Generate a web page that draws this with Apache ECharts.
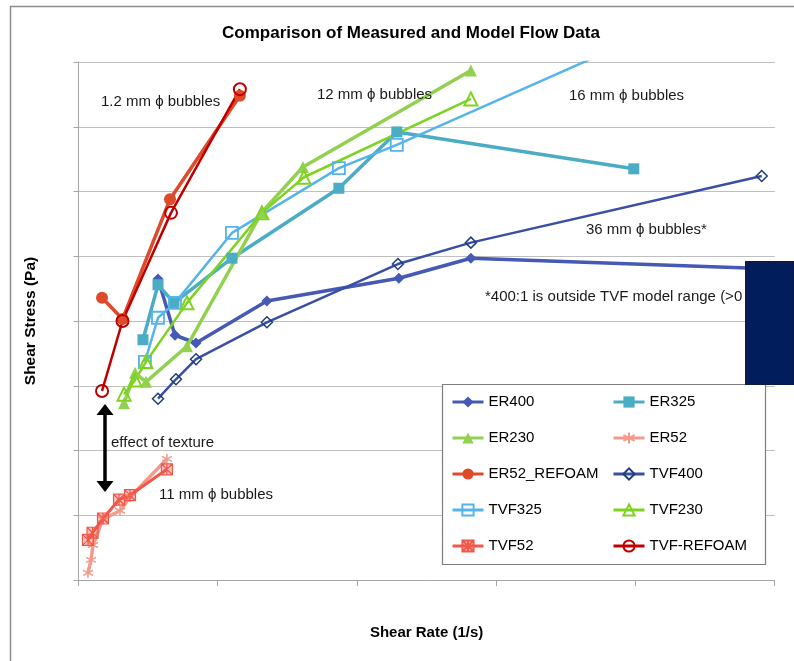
<!DOCTYPE html>
<html>
<head>
<meta charset="utf-8">
<script src="https://cdn.jsdelivr.net/npm/echarts@6/dist/echarts.min.js"></script>
<style>
  html, body { margin: 0; padding: 0; background: #ffffff; }
  #chart { width: 794px; height: 661px; }
</style>
</head>
<body>
<div id="chart"></div>
<script>
// Shear rate (1/s) and shear stress (Pa) pairs for each run
const er400 = [[57.1, 46.5], [69.3, 37.8], [84.4, 36.6], [135.3, 43.1], [230.1, 46.6], [281.8, 49.7], [490.7, 48.1]];
const er325 = [[46.3, 37.1], [57.1, 45.6], [68.6, 42.8], [110.2, 49.7], [187.0, 60.5], [228.6, 69.2], [398.8, 63.5]];
const er230 = [[32.7, 27.3], [40.6, 32.0], [48.5, 30.6], [77.9, 36.1], [131.7, 56.8], [161.2, 63.8], [281.8, 78.7]];
const er52 = [[6.8, 1.1], [9.0, 3.1], [10.4, 5.4], [17.6, 9.4], [29.8, 10.7], [37.0, 12.8], [63.5, 18.7]];
const er52Refoam = [[16.9, 43.6], [31.6, 40.3], [65.7, 58.8], [115.9, 74.8]];
const tvf400 = [[57.1, 28.0], [70.0, 31.0], [84.4, 34.1], [135.3, 39.8], [229.4, 48.8], [281.8, 52.1], [490.7, 62.4]];
const tvf325 = [[47.7, 33.7], [57.1, 40.5], [69.3, 42.8], [110.2, 53.6], [187.0, 63.6], [228.6, 67.2], [398.8, 83.4]];
const tvf230 = [[32.7, 28.7], [40.6, 30.9], [48.5, 33.7], [77.9, 42.8], [131.7, 56.7], [161.9, 62.2], [281.8, 74.3]];
const tvf52 = [[6.8, 6.2], [10.1, 7.3], [17.6, 9.5], [29.1, 12.4], [37.0, 13.1], [63.5, 17.1]];
const tvfRefoam = [[16.9, 29.2], [31.6, 40.0], [66.4, 56.7], [115.9, 75.8]];

const legendLeftColumn = ['ER400', 'ER230', 'ER52_REFOAM', 'TVF325', 'TVF52'];
const legendRightColumn = ['ER325', 'ER52', 'TVF400', 'TVF230', 'TVF-REFOAM'];
const xTicks = [0, 100, 200, 300, 400, 500];
const yTicks = [0, 10, 20, 30, 40, 50, 60, 70, 80];

const FONT = 'Liberation Sans';
const ASTERISK = 'path://M5,0L5,10M0.7,2.5L9.3,7.5M0.7,7.5L9.3,2.5';
const BOXED_ASTERISK = 'path://M0,0L10,0L10,10L0,10ZM0,0L10,10M10,0L0,10M5,0L5,10';
const CLEAR = 'rgba(255,255,255,0)';

function lineSeries(name, data, color, width, symbol, size, itemStyle) {
  return {
    name: name,
    type: 'line',
    data: data,
    symbol: symbol,
    symbolSize: size,
    showAllSymbol: true,
    clip: true,
    lineStyle: { color: color, width: width },
    itemStyle: Object.assign({ color: color }, itemStyle || {}),
    emphasis: { disabled: true },
    animation: false
  };
}

const series = [
  lineSeries('ER400', er400, '#4659b4', 3.5, 'diamond', 11),
  lineSeries('ER325', er325, '#4bacc6', 3.5, 'rect', 11),
  lineSeries('ER230', er230, '#92d050', 3.5, 'triangle', 12),
  lineSeries('ER52', er52, '#f59a8b', 3.5, ASTERISK, 10, { color: CLEAR, borderColor: '#f59a8b', borderWidth: 1.5 }),
  lineSeries('ER52_REFOAM', er52Refoam, '#df4a2b', 3.5, 'circle', 12),
  lineSeries('TVF400', tvf400, '#3a4ea6', 2.5, 'diamond', 11, { color: CLEAR, borderColor: '#1f3e7a', borderWidth: 1.5 }),
  lineSeries('TVF325', tvf325, '#56b4ea', 2.5, 'rect', 12, { color: CLEAR, borderColor: '#56b4ea', borderWidth: 1.8 }),
  lineSeries('TVF230', tvf230, '#7ed321', 2.5, 'triangle', 13, { color: CLEAR, borderColor: '#7ed321', borderWidth: 2 }),
  lineSeries('TVF52', tvf52, '#f2584a', 3, BOXED_ASTERISK, 11, { color: 'rgba(242,88,74,0.35)', borderColor: '#f2584a', borderWidth: 1.2 }),
  lineSeries('TVF-REFOAM', tvfRefoam, '#c00000', 2.5, 'circle', 12, { color: CLEAR, borderColor: '#c00000', borderWidth: 2 })
];

function legendItems(names) {
  return names.map(function (n) {
    return { name: n, lineStyle: { width: 3 } };
  });
}

const legendBase = {
  orient: 'vertical',
  top: 393,
  padding: 0,
  itemWidth: 31,
  itemHeight: 14,
  itemGap: 18,
  textStyle: { fontFamily: FONT, fontSize: 15, color: '#000000', lineHeight: 18 },
  selectedMode: false,
  z: 6
};

const chart = echarts.init(document.getElementById('chart'), null, { renderer: 'canvas' });

chart.setOption({
  backgroundColor: '#ffffff',
  animation: false,
  title: {
    text: 'Comparison of Measured and Model Flow Data',
    left: 406,
    top: 20,
    textAlign: 'center',
    textStyle: { fontFamily: FONT, fontSize: 17, fontWeight: 'bold', color: '#000000' }
  },
  grid: { left: 78.5, right: 19.3, top: 62, bottom: 81, containLabel: false },
  xAxis: {
    type: 'value',
    min: xTicks[0],
    max: xTicks[xTicks.length - 1],
    interval: xTicks[1] - xTicks[0],
    name: 'Shear Rate (1/s)',
    nameLocation: 'middle',
    nameGap: 45,
    nameTextStyle: { fontFamily: FONT, fontSize: 15, fontWeight: 'bold', color: '#000000' },
    axisLine: { show: true, onZero: false, lineStyle: { color: '#a6a6a6', width: 1 } },
    axisTick: { show: true, length: 6, lineStyle: { color: '#a6a6a6' } },
    axisLabel: { show: false },
    splitLine: { show: false }
  },
  yAxis: {
    type: 'value',
    min: yTicks[0],
    max: yTicks[yTicks.length - 1],
    interval: yTicks[1] - yTicks[0],
    name: 'Shear Stress (Pa)',
    nameLocation: 'middle',
    nameRotate: 90,
    nameGap: 40,
    nameTextStyle: { fontFamily: FONT, fontSize: 15.5, fontWeight: 'bold', color: '#000000' },
    axisLine: { show: true, lineStyle: { color: '#a6a6a6', width: 1 } },
    axisTick: { show: true, length: 5, lineStyle: { color: '#a6a6a6' } },
    axisLabel: { show: false },
    splitLine: { show: true, lineStyle: { color: '#bfbfbf', width: 1.2 } }
  },
  legend: [
    Object.assign({}, legendBase, { left: 451, data: legendItems(legendLeftColumn) }),
    Object.assign({}, legendBase, { left: 612, data: legendItems(legendRightColumn) })
  ],
  series: series,
  graphic: [
    // outer chart frame (left and top edges)
    { type: 'line', z: 1, shape: { x1: 10.5, y1: 6.5, x2: 10.5, y2: 661 }, style: { stroke: '#8c8c8c', lineWidth: 1.5 } },
    { type: 'line', z: 1, shape: { x1: 10, y1: 6.5, x2: 794, y2: 6.5 }, style: { stroke: '#8c8c8c', lineWidth: 1.5 } },
    // legend frame
    { type: 'rect', z: 3, shape: { x: 442.5, y: 384.5, width: 323, height: 180 }, style: { fill: '#ffffff', stroke: '#7f7f7f', lineWidth: 1.2 } },
    // annotations
    { type: 'text', z: 5, style: { text: '1.2 mm \u03d5 bubbles', x: 101, y: 102, textVerticalAlign: 'middle', font: '15px "Liberation Sans"', fill: '#1a1a1a' } },
    { type: 'text', z: 5, style: { text: '12 mm \u03d5 bubbles', x: 317, y: 95, textVerticalAlign: 'middle', font: '15px "Liberation Sans"', fill: '#1a1a1a' } },
    { type: 'text', z: 5, style: { text: '16 mm \u03d5 bubbles', x: 569, y: 96, textVerticalAlign: 'middle', font: '15px "Liberation Sans"', fill: '#1a1a1a' } },
    { type: 'text', z: 5, style: { text: '36 mm \u03d5 bubbles*', x: 586, y: 230, textVerticalAlign: 'middle', font: '15px "Liberation Sans"', fill: '#1a1a1a' } },
    { type: 'text', z: 5, style: { text: '*400:1 is outside TVF model range (>0', x: 485, y: 297, textVerticalAlign: 'middle', font: '15px "Liberation Sans"', fill: '#1a1a1a' } },
    { type: 'text', z: 5, style: { text: 'effect of texture', x: 111, y: 443, textVerticalAlign: 'middle', font: '15px "Liberation Sans"', fill: '#1a1a1a' } },
    { type: 'text', z: 5, style: { text: '11 mm \u03d5 bubbles', x: 159, y: 495, textVerticalAlign: 'middle', font: '15px "Liberation Sans"', fill: '#1a1a1a' } },
    // double-headed arrow between the textured and untextured results
    { type: 'line', z: 5, shape: { x1: 105, y1: 410, x2: 105, y2: 486 }, style: { stroke: '#000000', lineWidth: 3.5 } },
    { type: 'polygon', z: 5, shape: { points: [[105, 404], [113.5, 415], [96.5, 415]] }, style: { fill: '#000000' } },
    { type: 'polygon', z: 5, shape: { points: [[105, 492], [113.5, 481], [96.5, 481]] }, style: { fill: '#000000' } },
    // overlapping dark panel at the right edge
    { type: 'rect', z: 10, shape: { x: 746, y: 262, width: 48, height: 122 }, style: { fill: '#021d5b', stroke: '#0c1a48', lineWidth: 2 } }
  ]
});
</script>
</body>
</html>
